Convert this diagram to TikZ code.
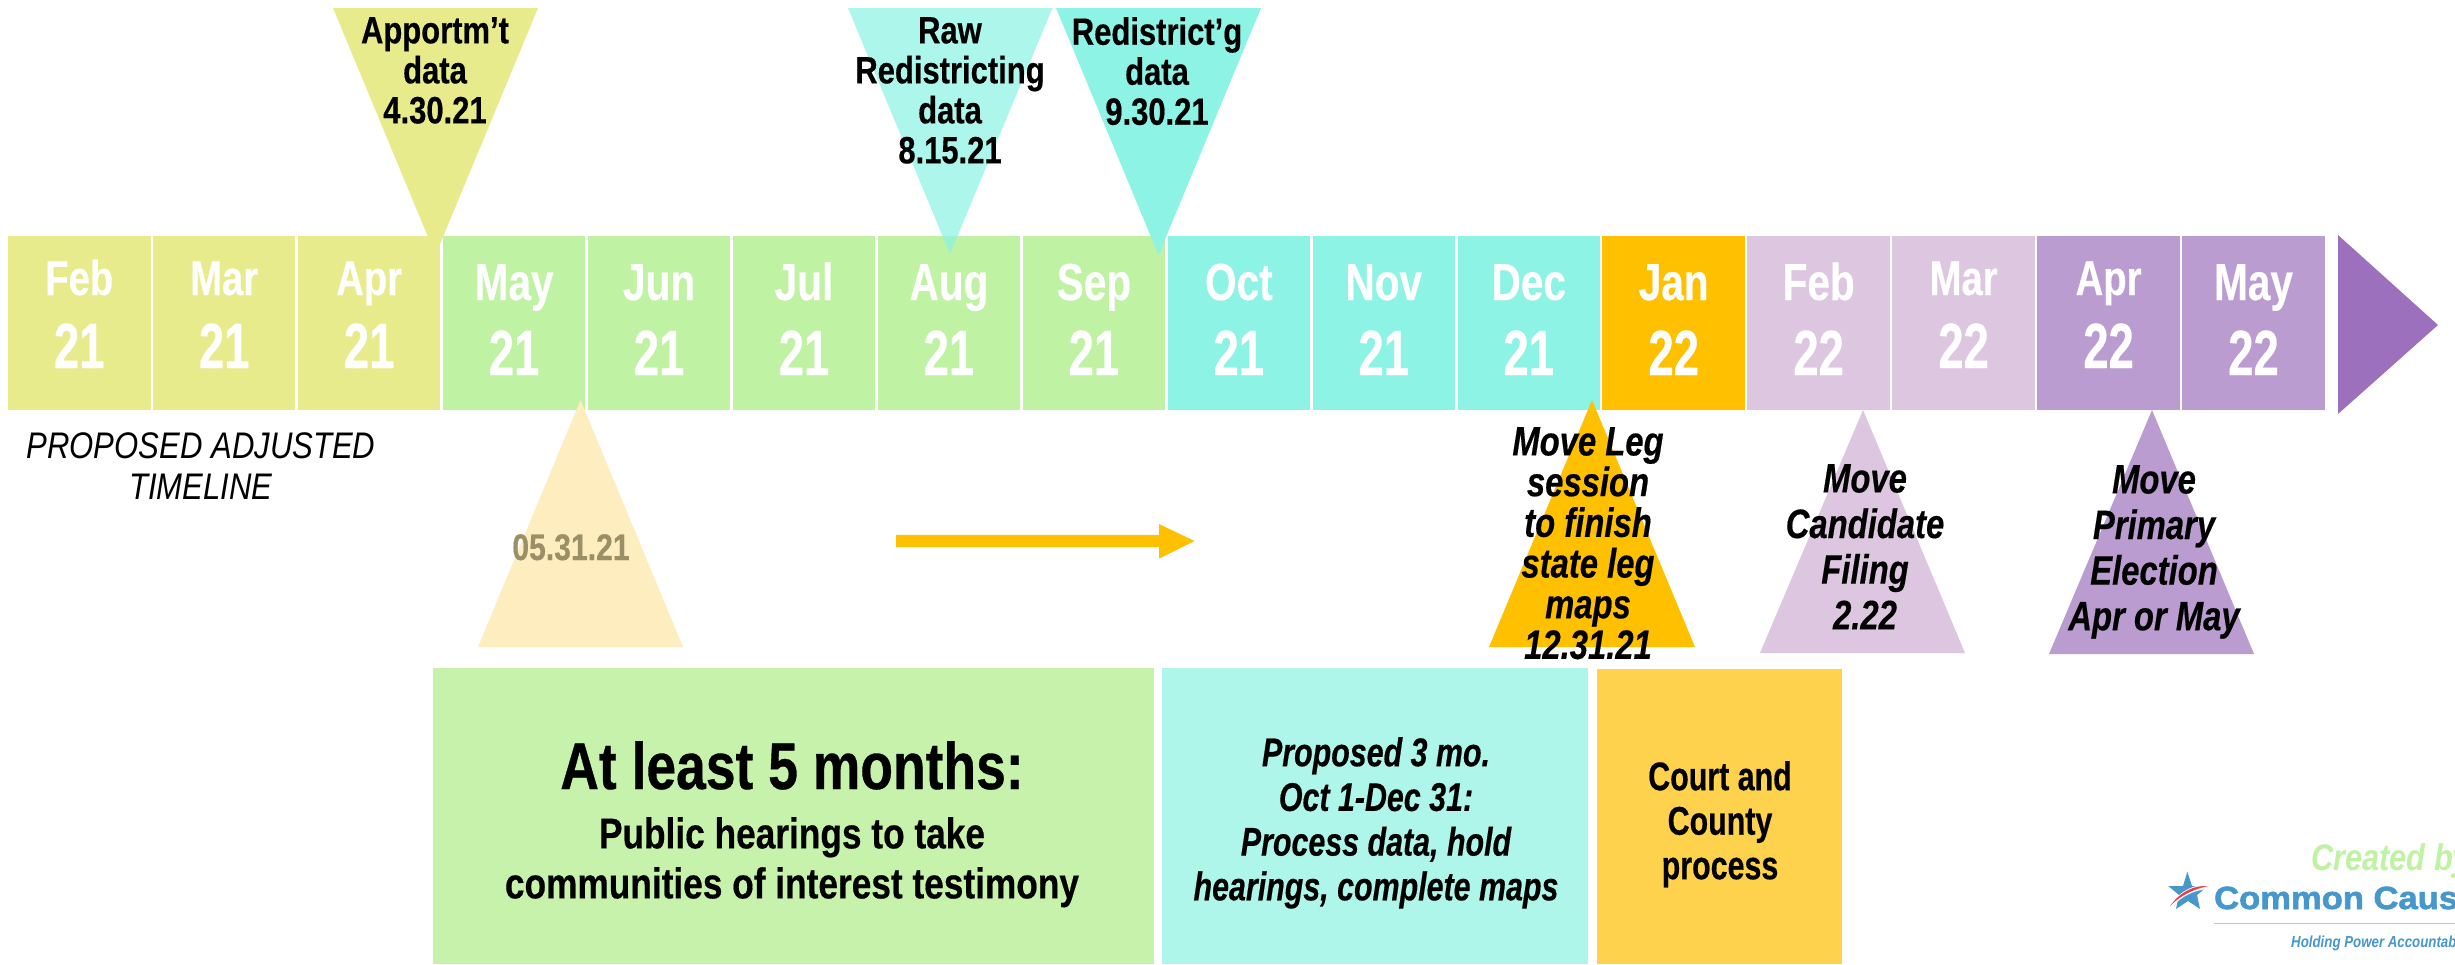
\documentclass[tikz,border=0pt]{standalone}
\usepackage{fontspec}
\setmainfont{Liberation Sans}
\newfontfamily\fmonth[FakeStretch=0.78,FakeBold=0.4]{Liberation Sans}
\newfontfamily\fnum[FakeStretch=0.71,FakeBold=0.4]{Liberation Sans}
\newfontfamily\flabel[FakeStretch=0.815,FakeBold=0.4]{Liberation Sans}
\newfontfamily\fitalic[FakeStretch=0.80,FakeBold=0.4]{Liberation Sans}
\newfontfamily\fnarrow[FakeStretch=0.76,FakeBold=0.4]{Liberation Sans}
\newfontfamily\fhead[FakeStretch=0.81,FakeBold=0.5]{Liberation Sans}
\newfontfamily\fsub[FakeStretch=0.82,FakeBold=0.4]{Liberation Sans}
\newfontfamily\fnote[FakeStretch=0.84]{Liberation Sans}
\newfontfamily\fcreated[FakeStretch=0.83]{Liberation Sans}
\newfontfamily\flogo[FakeStretch=1.08,FakeBold=2]{Liberation Sans}
\definecolor{cYellow}{HTML}{E8EB8C}
\definecolor{cGreen}{HTML}{BFF2A3}
\definecolor{cGreenBox}{HTML}{C7F2AB}
\definecolor{cTeal}{HTML}{8DF3E4}
\definecolor{cTealBox}{HTML}{AEF6EA}
\definecolor{cGold}{HTML}{FFC000}
\definecolor{cGoldBox}{HTML}{FFD24D}
\definecolor{cCream}{HTML}{FDEDBF}
\definecolor{cLilac}{HTML}{DDC6DF}
\definecolor{cPurple}{HTML}{BA9CD0}
\definecolor{cPurpleDark}{HTML}{9D70BD}
\definecolor{cFaded}{HTML}{9A8F66}
\definecolor{cBlue}{HTML}{4697CC}
\definecolor{cRed}{HTML}{EE3B43}
\definecolor{cPink}{HTML}{E8B4B8}
\tikzset{
  cellbox/.style={rectangle,draw=none,inner sep=0pt,minimum width=142.5pt,minimum height=174pt},
  monthtext/.style={inner sep=0pt,anchor=base,text=white,font=\fmonth\bfseries\fontsize{#1}{#1}\selectfont},
  numtext/.style={inner sep=0pt,anchor=base,text=white,font=\fnum\bfseries\fontsize{#1}{#1}\selectfont},
  blockbox/.style={rectangle,draw=none,inner sep=0pt,anchor=north west},
  lbl/.style={inner sep=0pt,align=center,anchor=north,text=black},
  lblbold/.style={lbl,font=\flabel\bfseries\fontsize{38}{40}\selectfont},
  lblital/.style={lbl,font=\fitalic\bfseries\itshape\fontsize{41}{45.6}\selectfont},
}
\newcommand{\monthcell}[7]{% index, colour, month, year, month size, num size, variant offset
  \pgfmathsetmacro{\cx}{8+144.95*#1+71.25}
  \node[cellbox,fill=#2] (cell#1) at (\cx,323) {};
  \node[monthtext=#5] (mon#1) at (\cx,{295+#7}) {#3};
  \node[numtext=#6] (yr#1) at (\cx,{368+#7*1.4}) {#4};
}
\begin{document}
\begin{tikzpicture}[x=1pt,y=-1pt]
\useasboundingbox (0,0) rectangle (2455,964);
\clip (0,0) rectangle (2455,964);
\fill[white] (0,0) rectangle (2455,964);
% timeline
\monthcell{0}{cYellow}{Feb}{21}{49}{64}{0}
\monthcell{1}{cYellow}{Mar}{21}{49}{64}{0}
\monthcell{2}{cYellow}{Apr}{21}{49}{64}{0}
\monthcell{3}{cGreen}{May}{21}{52}{64}{5}
\monthcell{4}{cGreen}{Jun}{21}{52}{64}{5}
\monthcell{5}{cGreen}{Jul}{21}{52}{64}{5}
\monthcell{6}{cGreen}{Aug}{21}{52}{64}{5}
\monthcell{7}{cGreen}{Sep}{21}{52}{64}{5}
\monthcell{8}{cTeal}{Oct}{21}{52}{64}{5}
\monthcell{9}{cTeal}{Nov}{21}{52}{64}{5}
\monthcell{10}{cTeal}{Dec}{21}{52}{64}{5}
\monthcell{11}{cGold}{Jan}{22}{52}{64}{5}
\monthcell{12}{cLilac}{Feb}{22}{52}{64}{5}
\monthcell{13}{cLilac}{Mar}{22}{49}{64}{0}
\monthcell{14}{cPurple}{Apr}{22}{49}{64}{0}
\monthcell{15}{cPurple}{May}{22}{52}{64}{5}
\fill[cPurpleDark] (2338,235) -- (2438,325) -- (2338,414) -- cycle;
% triangles
\fill[cYellow] (333,8) -- (538,8) -- (435.5,255) -- cycle;
\fill[cTeal,fill opacity=.72] (848,8) -- (1052.5,8) -- (950,254) -- cycle;
\fill[cTeal] (1056,8) -- (1261,8) -- (1158.5,255) -- cycle;
\fill[cCream] (478,647) -- (683,647) -- (580.5,400) -- cycle;
\fill[cGold] (1489,647) -- (1695,647) -- (1592,400) -- cycle;
\fill[cLilac] (1760,653) -- (1965,653) -- (1863,410) -- cycle;
\fill[cPurple] (2049,654) -- (2254,654) -- (2152,410) -- cycle;
% triangle labels
\node[lblbold] (apport) at (435,17) {Apportm’t\\data\\4.30.21};
\node[lblbold] (rawdata) at (950,17) {Raw\\Redistricting\\data\\8.15.21};
\node[lblbold] (redist) at (1157,17) {Redistrict’g\\data\\9.30.21};
\node[inner sep=0pt,anchor=base,text=cFaded,font=\flabel\bfseries\fontsize{37}{40}\selectfont] (fivethirtyone) at (571,560) {05.31.21};
\node[lbl,font=\fitalic\bfseries\itshape\fontsize{41}{40.7}\selectfont] (moveleg) at (1588,427) {Move Leg\\session\\to finish\\state leg\\maps\\12.31.21};
\node[lblital] (filing) at (1865,464) {Move\\Candidate\\Filing\\2.22};
\node[lblital] (primary) at (2154,465) {Move\\Primary\\Election\\Apr or May};
\node[inner sep=0pt,align=center,anchor=north,font=\fnote\itshape\fontsize{37}{41}\selectfont] (proposed) at (201,432) {PROPOSED ADJUSTED\\TIMELINE};
% arrow
\coordinate (arrowstart) at (896,541);
\coordinate (arrowend) at (1194.5,541);
\fill[cGold] (arrowstart) ++(0,-6.2) -- (1159,534.8) -- (1159,524) -- (arrowend) -- (1159,558.6) -- (1159,547.2) -- (896,547.2) -- cycle;
% lower boxes
\node[blockbox,fill=cGreenBox,minimum width=721pt,minimum height=296pt] (greenbox) at (433,668) {};
\node[blockbox,fill=cTealBox,minimum width=426.5pt,minimum height=296pt] (tealbox) at (1161.5,668) {};
\node[blockbox,fill=cGoldBox,minimum width=245pt,minimum height=295pt] (goldbox) at (1597,669) {};
\node[inner sep=0pt,anchor=base,font=\fhead\bfseries\fontsize{66}{66}\selectfont] (atleast) at (792,789) {At least 5 months:};
\node[lbl,font=\fsub\bfseries\fontsize{43}{50}\selectfont] (publichear) at (792,817) {Public hearings to take\\communities of interest testimony};
\node[lbl,font=\fnarrow\bfseries\itshape\fontsize{40}{44.7}\selectfont] (threemo) at (1376,737) {Proposed 3 mo.\\Oct 1-Dec 31:\\Process data, hold\\hearings, complete maps};
\node[lbl,font=\fnarrow\bfseries\fontsize{40}{44.5}\selectfont] (court) at (1720,761) {Court and\\County\\process};
% logo
\node[inner sep=0pt,anchor=base west,text=cGreen,font=\fcreated\bfseries\itshape\fontsize{37}{37}\selectfont] (created) at (2311,870) {Created by};
\fill[cBlue] (2187.3,871.7) -- (2192,886) -- (2208,886) -- (2197,895) -- (2200,909) -- (2188,901) -- (2176,909) -- (2179,895) -- (2168.3,886) -- (2183,886) -- cycle;
\fill[white] (2168,909) .. controls (2178,891) and (2194,884) .. (2209,885) -- (2209,889) .. controls (2195,890) and (2182,895) .. (2170,909) -- cycle;
\fill[cRed] (2170,906) .. controls (2180,892) and (2194,885) .. (2208,886) .. controls (2195,889) and (2182,894) .. (2170,906) -- cycle;
\node[inner sep=0pt,anchor=base west,text=cBlue,font=\flogo\bfseries\fontsize{32}{32}\selectfont] (common) at (2214,909) {Common Cause};
\coordinate (rulestart) at (2214,923.7);
\coordinate (ruleend) at (2455,923.7);
\draw[cPink,line width=1.5pt] (rulestart) -- (ruleend);
\node[inner sep=0pt,anchor=base west,text=cBlue,font=\fcreated\bfseries\itshape\fontsize{16}{16}\selectfont] (holding) at (2291,947) {Holding Power Accountable};
\end{tikzpicture}
\end{document}
